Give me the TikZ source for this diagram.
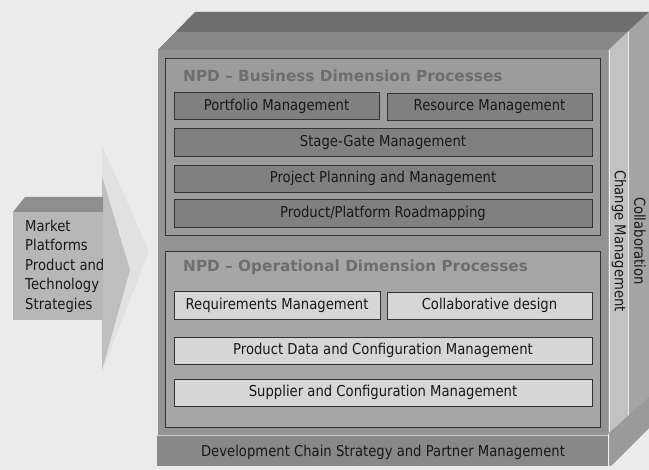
\documentclass[tikz,border=0pt]{standalone}
\usepackage{fontspec}
\setmainfont{DejaVu Sans}[FakeStretch=0.88]
\newfontfamily\titlefont{DejaVu Sans}
\definecolor{bg}{HTML}{EBEBEB}
\definecolor{topback}{HTML}{6E6E6E}
\definecolor{topfront}{HTML}{878787}
\definecolor{frontface}{HTML}{939393}
\definecolor{bizpanel}{HTML}{9C9C9C}
\definecolor{oppanel}{HTML}{A6A6A6}
\definecolor{bizbox}{HTML}{808080}
\definecolor{opbox}{HTML}{D6D6D6}
\definecolor{bottombar}{HTML}{888888}
\definecolor{sidecm}{HTML}{C2C2C2}
\definecolor{sidecol}{HTML}{A4A4A4}
\definecolor{sidebot}{HTML}{9A9A9A}
\definecolor{titlegray}{HTML}{6E6E6E}
\definecolor{arrbody}{HTML}{B7B7B7}
\definecolor{arrtop}{HTML}{8E8E8E}
\definecolor{arrhead}{HTML}{BFBFBF}
\definecolor{chev}{HTML}{E1E1E1}
\definecolor{ink}{HTML}{181818}
\definecolor{edge}{HTML}{333333}
\tikzset{
  panel/.style={draw=edge, line width=0.9pt, inner sep=0pt},
  bizbx/.style={draw=edge, line width=0.9pt, fill=bizbox, text=ink, inner sep=0pt,
    font=\fontsize{15}{18}\selectfont, minimum height=27pt},
  opbx/.style={draw=edge, line width=0.9pt, fill=opbox, text=ink, inner sep=0pt,
    font=\fontsize{15}{18}\selectfont, minimum height=27pt},
  paneltitle/.style={anchor=west, text=titlegray, inner sep=0pt,
    font=\titlefont\fontsize{15.3}{19}\bfseries\selectfont},
  sidetext/.style={rotate=-90, text=ink, inner sep=0pt, font=\fontsize{15}{18}\selectfont},
  plain/.style={text=ink, inner sep=0pt, font=\fontsize{15}{18}\selectfont}
}
\begin{document}
\begin{tikzpicture}[x=1pt,y=-1pt]
\useasboundingbox (0,0) rectangle (649,470);
\fill[bg] (0,0) rectangle (649,470);
% left arrow
\fill[chev] (102,145) -- (149,251) -- (102,372) -- cycle;
\fill[arrhead] (102,176) -- (130,270) -- (102,370) -- cycle;
\fill[arrbody] (13,212) rectangle (103,320);
\fill[arrtop] (13,212) -- (25,197) -- (103,197) -- (103,212) -- cycle;
\node[plain, anchor=north west, align=left, font=\fontsize{15}{19.4}\selectfont]
  (strat) at (25,220) {Market\\Platforms\\Product and\\Technology\\Strategies};
% top face
\fill[topback] (158,50) -- (195,12) -- (649,12) -- (649,14) -- (610,50) -- cycle;
\fill[topfront] (158,50) -- (176,32) -- (628,32) -- (610,50) -- cycle;
% right face
\fill[sidecol] (608,50) -- (649,12) -- (649,398) -- (608,434) -- cycle;
\fill[sidecm] (609,50) -- (629,31) -- (629,416) -- (609,434) -- cycle;
\draw[white!85!gray, line width=1pt] (609.5,50) -- (609.5,434);
\draw[white!80!gray, line width=1pt] (628.5,32) -- (628.5,416);
\fill[sidebot] (608,434) -- (649,397) -- (649,428) -- (611,466) -- (608,466) -- cycle;
\draw[white!90!gray, line width=0.8pt] (608.5,434) -- (608.5,466);
% front face
\fill[frontface] (158,50) rectangle (608,435);
\fill[bottombar] (157,435) rectangle (608,466);
\draw[white!60!gray, line width=0.8pt] (157,435) -- (608,435);
\node[plain] (chain) at (383,452) {Development Chain Strategy and Partner Management};
% business panel
\node[panel, fill=bizpanel, minimum width=435pt, minimum height=177pt] (biz) at (382.5,146.5) {};
\node[paneltitle] (biztitle) at (183,75.5) {NPD – Business Dimension Processes};
\node[bizbx, minimum width=205pt] (pm) at (276.5,106) {Portfolio Management};
\node[bizbx, minimum width=205pt] (rm) at (489.5,106.5) {Resource Management};
\node[bizbx, minimum width=418pt, minimum height=28pt] (sg) at (383,142) {Stage-Gate Management};
\node[bizbx, minimum width=418pt] (pp) at (383,178.5) {Project Planning and Management};
\node[bizbx, minimum width=418pt, minimum height=28pt] (rd) at (383,213) {Product/Platform Roadmapping};
% operational panel
\node[panel, fill=oppanel, minimum width=435pt, minimum height=176pt] (op) at (382.5,339) {};
\node[paneltitle] (optitle) at (183,267.5) {NPD – Operational Dimension Processes};
\node[opbx, minimum width=206pt, minimum height=28pt] (req) at (277,305) {Requirements Management};
\node[opbx, minimum width=205pt] (cd) at (489.5,305.5) {Collaborative design};
\node[opbx, minimum width=418pt] (pd) at (383,350.5) {Product Data and Configuration Management};
\node[opbx, minimum width=418pt] (sc) at (383,392.5) {Supplier and Configuration Management};
% side labels
\node[sidetext] (cm) at (619,241) {Change Management};
\node[sidetext] (col) at (640,241) {Collaboration};
\end{tikzpicture}
\end{document}
